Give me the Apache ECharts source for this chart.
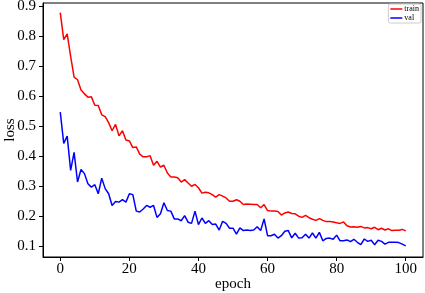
<!DOCTYPE html>
<html>
<head>
<meta charset="utf-8">
<script src="https://cdn.jsdelivr.net/npm/echarts@6/dist/echarts.min.js"></script>
<style>
html,body{margin:0;padding:0;background:#fff;}
#chart{width:425px;height:293px;}
</style>
</head>
<body>
<div id="chart"></div>
<script>
const epochs = Array.from({length: 101}, (_, i) => i);
const trainLoss = [
  0.879, 0.789, 0.808, 0.733, 0.664, 0.655, 0.621, 0.608, 0.597, 0.598,
  0.570, 0.569, 0.538, 0.532, 0.512, 0.485, 0.506, 0.468, 0.485, 0.454,
  0.451, 0.429, 0.431, 0.407, 0.398, 0.398, 0.402, 0.370, 0.383, 0.364,
  0.370, 0.344, 0.331, 0.331, 0.328, 0.314, 0.322, 0.311, 0.300, 0.306,
  0.295, 0.277, 0.280, 0.278, 0.272, 0.264, 0.272, 0.267, 0.261, 0.250,
  0.250, 0.255, 0.250, 0.239, 0.241, 0.240, 0.239, 0.239, 0.228, 0.239,
  0.219, 0.217, 0.217, 0.216, 0.204, 0.211, 0.214, 0.209, 0.208, 0.200,
  0.196, 0.203, 0.195, 0.190, 0.186, 0.192, 0.186, 0.182, 0.182, 0.181,
  0.178, 0.176, 0.181, 0.168, 0.164, 0.165, 0.163, 0.166, 0.161, 0.162,
  0.158, 0.163, 0.155, 0.160, 0.154, 0.158, 0.152, 0.153, 0.153, 0.156,
  0.151
];
const valLoss = [
  0.547, 0.443, 0.467, 0.353, 0.413, 0.314, 0.356, 0.342, 0.308, 0.297,
  0.305, 0.275, 0.327, 0.292, 0.275, 0.236, 0.249, 0.247, 0.255, 0.247,
  0.275, 0.272, 0.217, 0.214, 0.224, 0.236, 0.230, 0.236, 0.196, 0.208,
  0.245, 0.219, 0.217, 0.191, 0.191, 0.185, 0.202, 0.180, 0.176, 0.217,
  0.172, 0.194, 0.176, 0.185, 0.172, 0.174, 0.154, 0.183, 0.176, 0.160,
  0.160, 0.140, 0.161, 0.152, 0.154, 0.152, 0.154, 0.165, 0.152, 0.191,
  0.135, 0.135, 0.140, 0.127, 0.135, 0.150, 0.152, 0.128, 0.143, 0.127,
  0.128, 0.140, 0.127, 0.144, 0.127, 0.146, 0.118, 0.126, 0.127, 0.123,
  0.137, 0.118, 0.118, 0.121, 0.115, 0.123, 0.113, 0.105, 0.124, 0.116,
  0.120, 0.105, 0.120, 0.116, 0.107, 0.113, 0.113, 0.113, 0.112, 0.107,
  0.101
];
const xTicks = [0, 20, 40, 60, 80, 100];
const yTicks = [0.1, 0.2, 0.3, 0.4, 0.5, 0.6, 0.7, 0.8, 0.9];
const seriesNames = ['train', 'val'];

const FONT = '"Liberation Serif", "DejaVu Serif", serif';
const X_MIN = -5, X_MAX = 105, Y_MIN = 0.064, Y_MAX = 0.911;

const chart = echarts.init(document.getElementById('chart'), null, {renderer: 'canvas'});
chart.setOption({
  animation: false,
  backgroundColor: '#ffffff',
  grid: {
    left: 43, right: 2, top: 3, bottom: 36,
    outerBoundsMode: 'none',
    show: true, borderColor: '#000000', borderWidth: 1
  },
  legend: {
    orient: 'vertical', right: 4, top: 4,
    data: seriesNames.map(n => ({name: n, icon: 'rect'})),
    itemWidth: 12, itemHeight: 1.5, itemGap: 1,
    padding: [1, 2, 1, 2],
    borderColor: '#cccccc', borderWidth: 1, borderRadius: 2,
    backgroundColor: '#fff',
    textStyle: {fontFamily: FONT, fontSize: 8, color: '#000', padding: [0,0,0,-3]}
  },
  xAxis: {
    type: 'value', position: 'bottom', min: X_MIN, max: X_MAX,
    name: 'epoch', nameLocation: 'middle', nameGap: 20, nameMoveOverlap: false,
    nameTextStyle: {fontFamily: FONT, fontSize: 15, color: '#000'},
    axisLine: {show: true, onZero: false, lineStyle: {color: '#000000', width: 1}},
    splitLine: {show: false},
    axisTick: {show: true, length: 4, inside: false, customValues: xTicks, lineStyle: {color: '#000'}},
    axisLabel: {customValues: xTicks, fontFamily: FONT, fontSize: 15, color: '#000', margin: 5}
  },
  yAxis: {
    type: 'value', position: 'left', min: Y_MIN, max: Y_MAX,
    name: 'loss', nameLocation: 'middle', nameGap: 25, nameMoveOverlap: false,
    nameTextStyle: {fontFamily: FONT, fontSize: 15, color: '#000'},
    axisLine: {show: true, onZero: false, lineStyle: {color: '#000000', width: 1}},
    splitLine: {show: false},
    axisTick: {show: true, length: 4, inside: false, customValues: yTicks, lineStyle: {color: '#000'}},
    axisLabel: {customValues: yTicks, fontFamily: FONT, fontSize: 15, color: '#000', margin: 7,
      formatter: v => v.toFixed(1)}
  },
  series: [
    {
      name: seriesNames[0], type: 'line', symbol: 'none', showSymbol: false,
      data: epochs.map((e, i) => [e, trainLoss[i]]),
      lineStyle: {color: '#ff0000', width: 1.5}, itemStyle: {color: '#ff0000'}
    },
    {
      name: seriesNames[1], type: 'line', symbol: 'none', showSymbol: false,
      data: epochs.map((e, i) => [e, valLoss[i]]),
      lineStyle: {color: '#0000ff', width: 1.5}, itemStyle: {color: '#0000ff'}
    }
  ]
});
</script>
</body>
</html>
